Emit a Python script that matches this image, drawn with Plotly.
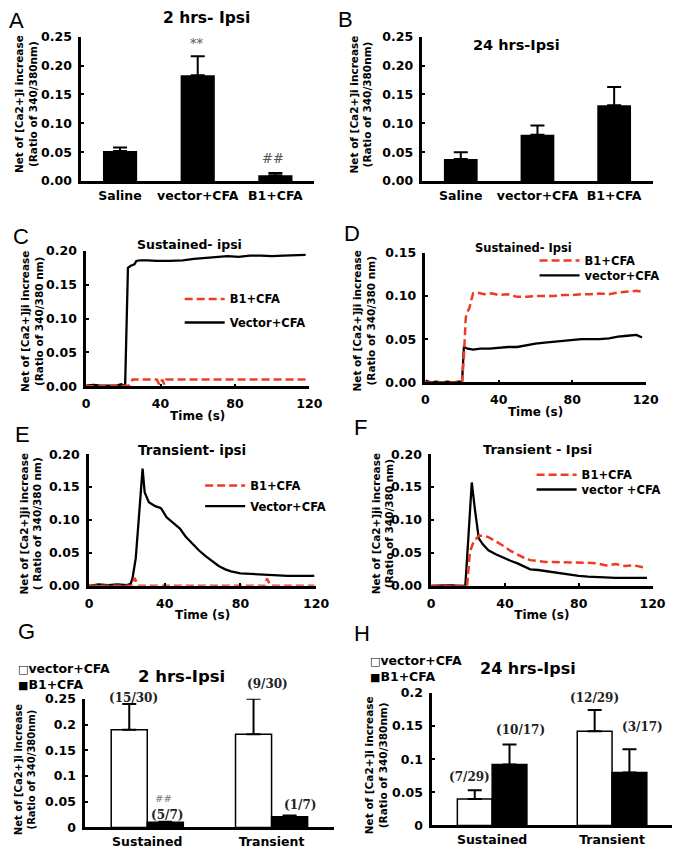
import plotly.graph_objects as go

# the page body has an 8px margin, so the figure is made 8px smaller and
# positions (measured in window pixels) are shifted accordingly
OFF = 8
W, H = 685 - OFF, 860 - OFF


def fx(x):
    return (x - OFF) / W


def fy(y):
    return 1 - (y - OFF) / H


# ---------------- data ----------------
bar_categories = ["Saline", "vector+CFA", "B1+CFA"]
a_values = [0.052, 0.183, 0.010]
a_errors = [0.006, 0.033, 0.004]
b_values = [0.038, 0.080, 0.131]
b_errors = [0.012, 0.016, 0.032]

time_ticks = [0, 40, 80, 120]

c_vector_t = [0, 4, 8, 12, 16, 19, 20, 21, 22, 22.5, 24, 26, 27, 29, 33, 38, 45, 52, 58, 64, 70, 76, 82, 88, 94, 100, 106, 112, 118]
c_vector_y = [0.001, 0.002, 0.001, 0.001, 0.001, 0.003, 0.001, 0.003, 0.100, 0.175, 0.178, 0.180, 0.185, 0.186, 0.186, 0.185, 0.185, 0.186, 0.188, 0.189, 0.190, 0.192, 0.191, 0.193, 0.193, 0.192, 0.193, 0.193, 0.194]
c_b1_t = [0, 10, 20, 23, 25, 30, 35, 38, 39.5, 41, 42, 43, 50, 60, 70, 80, 90, 100, 110, 119]
c_b1_y = [0, 0, 0, 0.001, 0.010, 0.010, 0.010, 0.010, 0.002, 0.010, 0.003, 0.010, 0.010, 0.010, 0.010, 0.010, 0.010, 0.010, 0.010, 0.010]

d_b1_t = [0, 5, 10, 15, 20, 21, 22, 23, 24, 25, 26, 28, 32, 36, 40, 45, 50, 55, 60, 65, 70, 75, 80, 85, 90, 95, 100, 105, 110, 115, 118]
d_b1_y = [0, 0, 0, 0, 0, 0.030, 0.075, 0.082, 0.086, 0.095, 0.103, 0.104, 0.102, 0.103, 0.101, 0.102, 0.099, 0.099, 0.100, 0.100, 0.100, 0.101, 0.101, 0.102, 0.102, 0.103, 0.102, 0.104, 0.105, 0.106, 0.105]
d_vector_t = [0, 3, 6, 9, 12, 15, 18, 20, 21, 23, 26, 30, 35, 40, 45, 50, 55, 60, 65, 70, 75, 80, 85, 90, 95, 100, 105, 110, 115, 118]
d_vector_y = [0.002, 0.000, 0.001, 0.000, 0.001, 0.000, 0.001, 0.001, 0.041, 0.039, 0.038, 0.039, 0.039, 0.040, 0.041, 0.041, 0.043, 0.045, 0.046, 0.047, 0.048, 0.049, 0.050, 0.050, 0.050, 0.051, 0.053, 0.054, 0.055, 0.052]

e_vector_t = [0, 5, 10, 15, 20, 22, 23, 24.7, 26.4, 27.8, 28.3, 29.4, 31.6, 35, 38, 41, 44, 48, 51, 54.6, 58, 61.6, 65, 68.5, 72, 75, 80, 85.6, 90, 95, 100, 105, 110, 115, 119]
e_vector_y = [0.000, 0.002, 0.001, 0.002, 0.001, 0.003, 0.012, 0.042, 0.106, 0.170, 0.178, 0.142, 0.127, 0.121, 0.118, 0.104, 0.097, 0.087, 0.075, 0.064, 0.054, 0.045, 0.037, 0.030, 0.025, 0.022, 0.019, 0.018, 0.017, 0.016, 0.016, 0.015, 0.015, 0.015, 0.015]
e_b1_t = [0, 10, 20, 23, 24, 26, 30, 40, 50, 60, 70, 80, 90, 93, 94, 96, 100, 110, 119]
e_b1_y = [0, 0, 0, 0, 0.012, 0, 0, 0, 0, 0, 0, 0, 0, 0, 0.011, 0, 0, 0, 0]

f_b1_t = [0, 10, 19.5, 21, 23, 25.8, 28, 31, 35, 39.5, 43, 46.8, 50, 53.7, 58, 62, 66, 70, 75, 80, 85, 90, 95, 100, 105, 110, 114, 117]
f_b1_y = [0, 0, 0, 0.052, 0.067, 0.076, 0.076, 0.074, 0.068, 0.060, 0.053, 0.047, 0.043, 0.039, 0.037, 0.036, 0.036, 0.036, 0.036, 0.035, 0.035, 0.034, 0.031, 0.033, 0.030, 0.031, 0.029, 0.027]
f_vector_t = [0, 5, 10, 15, 18.5, 20.3, 22, 23.7, 25.8, 28, 31, 35, 39.5, 43, 46.8, 50, 53.7, 58, 62.4, 66, 70, 75, 80, 85, 90, 95, 100, 105, 110, 115, 117]
f_vector_y = [0, 0.001, 0.001, 0.000, 0.000, 0.080, 0.157, 0.116, 0.072, 0.063, 0.054, 0.048, 0.042, 0.038, 0.034, 0.030, 0.025, 0.024, 0.022, 0.021, 0.019, 0.017, 0.015, 0.014, 0.013, 0.013, 0.012, 0.012, 0.012, 0.013, 0.012]

group_categories = ["Sustained", "Transient"]
g_vector = [0.190, 0.181]
g_vector_err = [0.050, 0.069]
g_b1 = [0.010, 0.021]
g_b1_err = [0.001, 0.002]
g_vector_n = ["(15/30)", "(9/30)"]
g_b1_n = ["(5/7)", "(1/7)"]

h_vector = [0.040, 0.142]
h_vector_err = [0.013, 0.032]
h_b1 = [0.092, 0.080]
h_b1_err = [0.030, 0.035]
h_vector_n = ["(7/29)", "(12/29)"]
h_b1_n = ["(10/17)", "(3/17)"]

# ---------------- styles ----------------
RED = "#EE3B24"
BOLD = "DejaVu Sans"
TICKFONT = dict(family=BOLD, size=12.5, color="black", weight="bold")

fig = go.Figure()


def err(arr):
    return dict(type="data", array=arr, arrayminus=[0] * len(arr), symmetric=False,
                color="black", thickness=2, width=7)


# A, B bars
fig.add_trace(go.Bar(x=bar_categories, y=a_values, error_y=err(a_errors), width=0.44,
                     marker=dict(color="black", line=dict(width=0)), showlegend=False,
                     xaxis="x", yaxis="y"))
fig.add_trace(go.Bar(x=bar_categories, y=b_values, error_y=err(b_errors), width=0.44,
                     marker=dict(color="black", line=dict(width=0)), showlegend=False,
                     xaxis="x2", yaxis="y2"))

# time traces (each legend entry has its own legend box for exact placement)
panels = [
    ("x3", "y3", "legend", c_b1_t, c_b1_y, "B1+CFA", "legend2", c_vector_t, c_vector_y, "Vector+CFA"),
    ("x4", "y4", "legend3", d_b1_t, d_b1_y, "B1+CFA", "legend4", d_vector_t, d_vector_y, "vector+CFA"),
    ("x5", "y5", "legend5", e_b1_t, e_b1_y, "B1+CFA", "legend6", e_vector_t, e_vector_y, "Vector+CFA"),
    ("x6", "y6", "legend7", f_b1_t, f_b1_y, "B1+CFA", "legend8", f_vector_t, f_vector_y, "vector +CFA"),
]
for xa, ya, lr, rt, ry, rname, lb, bt, by, bname in panels:
    fig.add_trace(go.Scatter(x=bt, y=by, mode="lines", name=bname,
                             line=dict(color="black", width=2.3),
                             xaxis=xa, yaxis=ya, legend=lb))
    fig.add_trace(go.Scatter(x=rt, y=ry, mode="lines", name=rname,
                             line=dict(color=RED, width=2.5, dash="8px,4px"),
                             xaxis=xa, yaxis=ya, legend=lr))

# G, H grouped bars
for xa, ya, vv, ve, bv, be in [("x7", "y7", g_vector, g_vector_err, g_b1, g_b1_err),
                               ("x8", "y8", h_vector, h_vector_err, h_b1, h_b1_err)]:
    fig.add_trace(go.Bar(x=group_categories, y=vv, error_y=err(ve), width=0.29, offset=-0.29,
                         marker=dict(color="white", line=dict(color="black", width=1.5)),
                         name="vector+CFA", showlegend=False, xaxis=xa, yaxis=ya))
    fig.add_trace(go.Bar(x=group_categories, y=bv, error_y=err(be), width=0.29, offset=0,
                         marker=dict(color="black", line=dict(color="black", width=1.5)),
                         name="B1+CFA", showlegend=False, xaxis=xa, yaxis=ya))

# ---------------- axes ----------------
axis_common = dict(showline=True, linecolor="black", linewidth=2.5, showgrid=False,
                   zeroline=False, tickfont=TICKFONT, fixedrange=True)


def xcat(l, r, y):
    return dict(axis_common, domain=[fx(l), fx(r)], anchor=y, ticks="",
                ticklabelstandoff=1)


def ylin(b, t, x, rng, dtick, fmt):
    return dict(axis_common, domain=[fy(b), fy(t)], anchor=x, range=rng, dtick=dtick,
                tickformat=fmt, ticks="inside", ticklen=3, tickwidth=2, tickcolor="black",
                ticklabelstandoff=4)


def xtime(l, r, y):
    return dict(axis_common, domain=[fx(l), fx(r)], anchor=y, range=[0, 120],
                tickvals=time_ticks, ticks="inside", ticklen=3, tickwidth=2,
                tickcolor="black", ticklabelstandoff=4,
                title=dict(text="Time (s)", font=dict(family=BOLD, size=12, weight="bold"),
                           standoff=2))


layout = dict(
    width=W, height=H, margin=dict(l=0, r=0, t=0, b=0),
    paper_bgcolor="white", plot_bgcolor="white", barmode="overlay",
    font=dict(family=BOLD, color="black"),
)
layout["xaxis"] = dict(xcat(79, 318, "y"), range=[-0.5, 2.5])
layout["yaxis"] = ylin(176, 29, "x", [0, 0.25], 0.05, ".2f")
layout["xaxis2"] = dict(xcat(429, 665, "y2"), range=[-0.5, 2.5])
layout["yaxis2"] = ylin(176, 29, "x2", [0, 0.25], 0.05, ".2f")
layout["xaxis3"] = xtime(84, 313, "y3")
layout["yaxis3"] = ylin(385, 247, "x3", [0, 0.2], 0.05, ".2f")
layout["xaxis4"] = xtime(432, 658, "y4")
layout["yaxis4"] = ylin(381, 249, "x4", [0, 0.15], 0.05, ".2f")
layout["xaxis5"] = xtime(87, 320, "y5")
layout["yaxis5"] = ylin(588, 454, "x5", [0, 0.2], 0.05, ".2f")
layout["xaxis6"] = xtime(438, 665, "y6")
layout["yaxis6"] = ylin(588, 454, "x6", [0, 0.2], 0.05, ".2f")
layout["xaxis7"] = dict(xcat(83, 338, "y7"), range=[-0.5, 1.5])
layout["yaxis7"] = ylin(834, 703, "x7", [0, 0.25], 0.05, "")
layout["xaxis8"] = dict(xcat(439, 685, "y8"), range=[-0.5, 1.5])
layout["yaxis8"] = ylin(832, 697, "x8", [0, 0.2], 0.05, "")

legend_common = dict(font=dict(family=BOLD, size=11.5, weight="bold"), bgcolor="rgba(0,0,0,0)",
                     itemwidth=40, xanchor="left", yanchor="middle", borderwidth=0)
# (legend name, sample left x, row centre y) in window pixels
for name, lx, ly in [("legend", 180, 296), ("legend2", 180, 320),
                     ("legend3", 544, 257), ("legend4", 544, 272),
                     ("legend5", 201, 486), ("legend6", 201, 507),
                     ("legend7", 541, 475), ("legend8", 541, 490)]:
    layout[name] = dict(legend_common, x=fx(lx), y=fy(ly))

fig.update_layout(**layout)

# ---------------- annotations ----------------
ann = []


def text(x, y, s, size=12, family=BOLD, weight="bold", color="black", angle=0,
         xanchor="center", align="center"):
    ann.append(dict(x=fx(x), y=fy(y), xref="paper", yref="paper", text=s, showarrow=False,
                    xanchor=xanchor, yanchor="middle", textangle=angle, align=align,
                    font=dict(family=family, size=size, weight=weight, color=color)))


# panel letters
for letter, x, y in [("A", 13, 13), ("B", 350, 12), ("C", 17, 232), ("D", 357, 229),
                     ("E", 19, 434), ("F", 365, 427), ("G", 23, 635), ("H", 367, 637)]:
    text(x, y, letter, size=22, family="Liberation Sans", weight="normal")

# titles
text(207, 10, "2 hrs- Ipsi", size=15.5)
text(525, 38, "24 hrs-Ipsi", size=14.5)
text(190, 241, "Sustained- ipsi", size=12.5)
text(533, 244, "Sustained- Ipsi", size=11.5)
text(193, 450, "Transient- ipsi", size=13.5)
text(547, 449, "Transient - Ipsi", size=13)
text(182, 680, "2 hrs-Ipsi", size=16.5)
text(537, 672, "24 hrs-Ipsi", size=16)

# y-axis titles
yt1 = "Net of [Ca2+]i increase<br>(Ratio of 340/380nm)"
yt2 = "Net of [Ca2+]ji increase<br>(Ratio of 340/380 nm)"
yt3 = "Net of [Ca2+]ji increase<br>( Ratio of 340/380 nm)"
text(23, 98, yt1, size=10.5, angle=-90)
text(366, 98, yt1, size=10.5, angle=-90)
text(28, 319, yt2, size=10.5, angle=-90)
text(369, 318, yt2, size=10.5, angle=-90)
text(27, 525, yt3, size=10.5, angle=-90)
text(388, 525, yt2, size=10.5, angle=-90)
text(22, 775, yt1, size=10, angle=-90)
text(381, 771, yt1, size=10.5, angle=-90)

# significance marks
text(198, 36, "**", size=13, family="DejaVu Serif", weight="normal", color="#555")
text(276, 153, "##", size=13, family="DejaVu Serif", weight="normal", color="#555")
text(163, 805, "##", size=10, family="DejaVu Serif", weight="normal", color="#777")

# n labels
SER = "DejaVu Serif"
for s, x, y in [(g_vector_n[0], 133, 702), (g_vector_n[1], 270, 688),
                (g_b1_n[0], 167, 821), (g_b1_n[1], 303, 811),
                (h_vector_n[0], 477, 783), (h_vector_n[1], 605, 702),
                (h_b1_n[0], 530, 735), (h_b1_n[1], 655, 732)]:
    text(x, y, s, size=12, family=SER, color="#222")

# G / H legends
SQ_O = "<span style='font-size:11px'>□</span>"
SQ_F = "<span style='font-size:11px'>■</span>"
text(12, 680, SQ_O + "vector+CFA<br>" + SQ_F + "B1+CFA", size=12.5, xanchor="left", align="left")
text(373, 672, SQ_O + "vector+CFA<br>" + SQ_F + "B1+CFA", size=12.5, xanchor="left", align="left")

fig.update_layout(annotations=ann)

fig.write_html("out.html")
